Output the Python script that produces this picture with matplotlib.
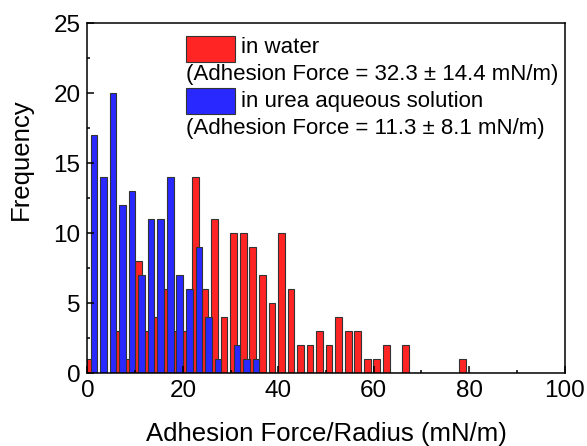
import numpy as np
import matplotlib
matplotlib.use("Agg")
import matplotlib.pyplot as plt
from matplotlib.patches import Rectangle
from matplotlib.ticker import MultipleLocator

plt.rcParams['font.family'] = ['Liberation Sans', 'DejaVu Sans']

# bins of 2 mN/m, bin k covers [2k, 2k+2]
bin_centers = np.arange(1, 80, 2)
water = [1, 0, 0, 3, 1, 8, 3, 4, 6, 3,
         3, 14, 6, 11, 4, 10, 10, 9, 7, 5,
         10, 6, 2, 2, 3, 2, 4, 3, 3, 1,
         1, 2, 0, 2, 0, 0, 0, 0, 0, 1]
urea = [17, 14, 20, 12, 13, 7, 11, 11, 14, 7,
        6, 9, 4, 1, 0, 2, 1, 1, 0, 0,
        0, 0, 0, 0, 0, 0, 0, 0, 0, 0,
        0, 0, 0, 0, 0, 0, 0, 0, 0, 0]

label_water = "in water"
label_water_stat = "(Adhesion Force = 32.3 \u00b1 14.4 mN/m)"
label_urea = "in urea aqueous solution"
label_urea_stat = "(Adhesion Force = 11.3 \u00b1 8.1 mN/m)"

red = "#ff2525"
blue = "#2828ff"

fig = plt.figure(figsize=(5.87, 4.46), dpi=100)
ax = fig.add_axes([0.149, 0.163, 0.8127, 0.7854])

ax.bar(bin_centers - 0.35, water, width=1.4, color=red, edgecolor="#333333", linewidth=0.8)
ax.bar(bin_centers + 0.35, urea, width=1.4, color=blue, edgecolor="#333333", linewidth=0.8)

ax.set_xlim(0, 100)
ax.set_ylim(0, 25)
ax.xaxis.set_major_locator(MultipleLocator(20))
ax.xaxis.set_minor_locator(MultipleLocator(10))
ax.yaxis.set_major_locator(MultipleLocator(5))
ax.yaxis.set_minor_locator(MultipleLocator(2.5))
ax.tick_params(which="both", direction="in", top=False, right=False, width=1.1)
ax.tick_params(which="major", length=5, labelsize=17.5, pad=5)
ax.tick_params(which="minor", length=2.5)
for s in ax.spines.values():
    s.set_linewidth(1.1)

ax.set_xlabel("Adhesion Force/Radius (mN/m)", fontsize=18.5)
ax.xaxis.set_label_coords(0.5, -0.14)
ax.set_ylabel("Frequency", fontsize=18.5)
ax.yaxis.set_label_coords(-0.115, 0.61)

# legend drawn by hand (second lines start under the patch)
tr = ax.transAxes
ax.add_patch(Rectangle((0.207, 0.889), 0.102, 0.074, transform=tr,
                       facecolor=red, edgecolor="#333333", linewidth=0.8))
ax.text(0.322, 0.929, label_water, transform=tr, fontsize=16, va="center")
ax.text(0.207, 0.852, label_water_stat, transform=tr, fontsize=16, va="center")
ax.add_patch(Rectangle((0.207, 0.740), 0.102, 0.074, transform=tr,
                       facecolor=blue, edgecolor="#333333", linewidth=0.8))
ax.text(0.322, 0.777, label_urea, transform=tr, fontsize=16, va="center")
ax.text(0.207, 0.70, label_urea_stat, transform=tr, fontsize=16, va="center")

fig.savefig("out.png", dpi=100)
